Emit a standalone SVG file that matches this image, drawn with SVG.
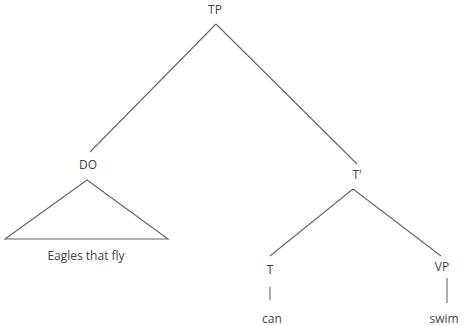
<svg xmlns="http://www.w3.org/2000/svg" width="466" height="326" viewBox="0 0 466 326">
<style>
text{font-family:"Open Sans","Liberation Sans",sans-serif;font-size:12px;fill:#444;text-anchor:middle}
.l{stroke:#666;stroke-width:1.1;fill:none}
</style>
<rect width="466" height="326" fill="#fff"/>
<g id="connectors">
<line class="l" x1="216" y1="24" x2="90" y2="152"/>
<line class="l" x1="216" y1="24" x2="357" y2="164"/>
<line class="l" x1="353" y1="189" x2="270" y2="256"/>
<line class="l" x1="353" y1="189" x2="441" y2="256"/>
<line class="l" x1="270" y1="287" x2="270" y2="300"/>
<line class="l" x1="447" y1="278" x2="447" y2="303"/>
</g>
<g id="TP"><text x="215" y="14">TP</text></g>
<g id="DO"><text x="88" y="169">DO</text></g>
<g id="DO-triangle"><polygon class="l" points="87,180 5,239 168,239"/><text x="86" y="260" font-size="13.5">Eagles that fly</text></g>
<g id="Tbar"><text x="357" y="179">T'</text></g>
<g id="T"><text x="270" y="274">T</text></g>
<g id="can"><text x="272" y="323">can</text></g>
<g id="VP"><text x="442" y="271">VP</text></g>
<g id="swim"><text x="444" y="323">swim</text></g>
</svg>
